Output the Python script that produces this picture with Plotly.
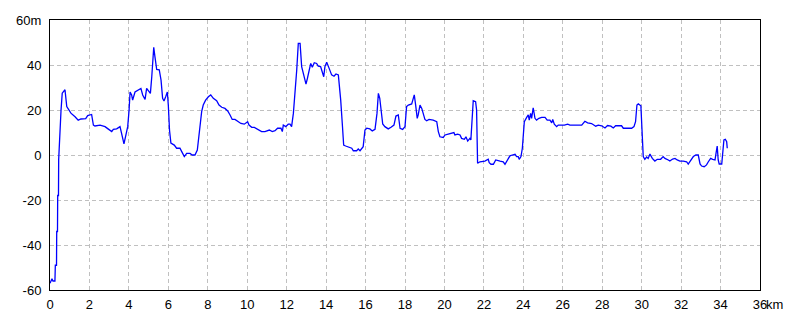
import plotly.graph_objects as go

# distance along route (km) and elevation (m)
distance_km = [
    0.00, 0.05, 0.10, 0.15, 0.25, 0.27, 0.33, 0.34, 0.38, 0.39, 0.43, 0.44, 0.48, 0.56, 0.62, 0.76, 0.85, 0.96,
    1.06, 1.27, 1.43, 1.57, 1.81, 1.91, 2.11, 2.20, 2.28, 2.54, 2.79, 2.96, 3.13, 3.21, 3.38, 3.55, 3.60, 3.67,
    3.75, 3.84, 3.94, 4.01, 4.06, 4.14, 4.19, 4.31, 4.48, 4.61, 4.70, 4.82, 4.90, 5.02, 5.09, 5.16, 5.21, 5.26,
    5.32, 5.41, 5.54, 5.63, 5.71, 5.78, 5.87, 5.92, 5.95, 6.00, 6.06, 6.13, 6.30, 6.42, 6.59, 6.68, 6.81, 6.93,
    7.10, 7.21, 7.35, 7.47, 7.55, 7.61, 7.69, 7.77, 7.89, 8.03, 8.15, 8.28, 8.45, 8.57, 8.71, 8.87, 9.01, 9.13,
    9.24, 9.38, 9.52, 9.68, 9.85, 10.02, 10.09, 10.23, 10.36, 10.48, 10.60, 10.73, 10.90, 11.12, 11.27, 11.41,
    11.54, 11.71, 11.78, 11.83, 11.95, 12.08, 12.17, 12.25, 12.34, 12.42, 12.51, 12.59, 12.68, 12.76, 12.84,
    12.93, 12.98, 13.05, 13.13, 13.22, 13.30, 13.40, 13.52, 13.60, 13.72, 13.81, 13.88, 13.94, 14.03, 14.11,
    14.20, 14.28, 14.40, 14.50, 14.62, 14.67, 14.74, 14.82, 14.89, 14.99, 15.12, 15.30, 15.38, 15.55, 15.63,
    15.72, 15.88, 15.97, 16.06, 16.22, 16.34, 16.48, 16.58, 16.65, 16.72, 16.78, 16.87, 16.98, 17.15, 17.29,
    17.44, 17.54, 17.66, 17.75, 17.88, 18.00, 18.08, 18.17, 18.34, 18.42, 18.47, 18.54, 18.62, 18.67, 18.76,
    18.85, 18.93, 19.01, 19.10, 19.22, 19.43, 19.61, 19.69, 19.77, 19.94, 20.03, 20.19, 20.37, 20.48, 20.53,
    20.67, 20.79, 20.87, 21.01, 21.09, 21.18, 21.29, 21.34, 21.41, 21.46, 21.58, 21.63, 21.68, 21.80, 22.05,
    22.22, 22.27, 22.36, 22.48, 22.60, 22.82, 22.98, 23.07, 23.20, 23.32, 23.44, 23.58, 23.66, 23.74, 23.79,
    23.88, 23.95, 24.00, 24.05, 24.17, 24.25, 24.30, 24.37, 24.42, 24.50, 24.59, 24.67, 24.79, 24.93, 25.10,
    25.21, 25.35, 25.44, 25.49, 25.57, 25.69, 25.77, 25.91, 26.08, 26.25, 26.36, 26.62, 26.96, 27.12, 27.26,
    27.46, 27.55, 27.67, 27.80, 27.97, 28.14, 28.27, 28.44, 28.56, 28.68, 28.81, 28.98, 29.07, 29.32, 29.49,
    29.61, 29.69, 29.76, 29.83, 29.96, 30.03, 30.08, 30.16, 30.25, 30.33, 30.42, 30.54, 30.67, 30.79, 30.96,
    31.09, 31.18, 31.35, 31.43, 31.57, 31.69, 31.80, 31.94, 32.11, 32.28, 32.36, 32.45, 32.53, 32.62, 32.75,
    32.87, 32.96, 33.04, 33.17, 33.29, 33.38, 33.50, 33.60, 33.72, 33.77, 33.83, 33.88, 33.93, 34.06, 34.11,
    34.17, 34.24, 34.31, 34.34,
]
elevation_m = [
    -57, -56, -55, -56, -56, -49, -49, -34, -34, -18, -18, -2, 8, 20, 27.5, 29, 21.5, 20,
    18.6, 17, 15.5, 16, 16.2, 17.5, 18, 13.3, 12.9, 13.3, 12.6, 11.5, 10.4, 11.4, 11.6, 12.6, 11.1, 8.1,
    4.9, 8, 12.6, 20, 28, 26.7, 24.4, 28, 29, 29.6, 26.7, 24.7, 29.6, 28.5, 27.4, 34.8, 45, 47.9,
    43.7, 38, 37.9, 33.3, 25.2, 24, 26, 27.5, 28, 22, 11, 5.3, 4.4, 3, 3, 1.5, -0.7, 0.7,
    0.7, 0, 0, 2.2, 8.1, 14.8, 19.3, 22.2, 24.4, 25.9, 26.7, 25.2, 24.1, 22.2, 21.2, 20.7, 19.6, 17.8,
    15.8, 15.8, 14.8, 14, 13.7, 14.8, 13.3, 12.3, 12.3, 11.6, 11.1, 10.4, 10.4, 11.1, 10.4, 10.8,
    11.9, 11.9, 10.4, 13.3, 12.6, 13.7, 13.7, 12.6, 18.5, 26, 37.8, 49.6, 49.6, 39.3, 36.3,
    33.3, 31.5, 34, 37.8, 40.7, 39, 41, 40.7, 39.5, 39.3, 36.3, 34.8, 39.3, 41.2, 39.5,
    37, 35.6, 35, 36, 35.6, 31.8, 24.4, 14, 4.4, 4, 3.7, 3, 1.9, 1.9, 2.7,
    1.9, 3.7, 11.1, 11.9, 11.6, 10.7, 11.4, 18.5, 27.4, 25.2, 20.7, 13.8, 12.6, 11.6, 12.3,
    13.3, 17.3, 17.8, 11.9, 11.4, 12.6, 21.5, 22.2, 22.7, 25.2, 26.7, 22.2, 16.3, 17.8, 22.2,
    20.7, 18.5, 15.8, 15.2, 15.8, 15.5, 14.8, 10.4, 8.1, 7.8, 8.9, 9.3, 9.6, 10, 8.9,
    9.3, 8.9, 7.4, 7, 8.1, 6.2, 7.4, 6.7, 19.3, 24.1, 23.7, 20, -3.7, -3, -2.7,
    -1.9, -3.4, -4.1, -4.1, -2.2, -2.7, -3, -4.1, -2.2, -0.4, 0, 0.3, -0.7, -0.7, -1.9,
    -0.7, 3, 8.1, 14.8, 16.7, 17.8, 15.5, 18.5, 16.3, 21, 16.3, 15.5, 16.3, 16.7, 16.7,
    15.5, 15.5, 14.3, 15.8, 13.7, 12.6, 13.3, 13.3, 13.3, 13.7, 13.3, 13.3, 13.3, 15, 14.3,
    14, 13.3, 12.8, 13.3, 13, 12, 13.1, 12.8, 12, 13, 13, 13, 11.9, 11.9, 11.9,
    12.6, 14.8, 22.2, 22.7, 21.9, 11.1, -0.7, -1.9, -0.9, -1.5, 0.4, -1.5, -2.7, -1.9, -1.9,
    -0.7, -1.5, -2.2, -2.7, -1.8, -1.5, -2.2, -2.7, -2.7, -3, -4, -2.7, -1.9, -0.7, 0,
    0, -4, -4.9, -5.2, -4.4, -3, -1.5, -1.9, -2.2, 0.7, 4, -2.2, -4, -4, 0,
    6.7, 7, 5.9, 3,
]

x_ticks = [0, 2, 4, 6, 8, 10, 12, 14, 16, 18, 20, 22, 24, 26, 28, 30, 32, 34, 36]
x_ticktext = ["0", "2", "4", "6", "8", "10", "12", "14", "16", "18", "20", "22", "24", "26", "28", "30", "32", "34", "36"]
y_ticks = [-60, -40, -20, 0, 20, 40, 60]
y_ticktext = ["-60", "-40", "-20", "0", "20", "40", "60m"]

FONT = "Liberation Sans Narrow, Liberation Sans, Arial, sans-serif"

fig = go.Figure()
fig.add_trace(go.Scatter(
    x=distance_km, y=elevation_m, mode="lines",
    line=dict(color="#0000ff", width=1.3),
    hoverinfo="skip", showlegend=False,
))

grid = dict(showgrid=True, gridcolor="#c0c0c0", griddash="4px,3px", gridwidth=1,
            zeroline=False, showline=True, linecolor="black", linewidth=1, mirror=True,
            ticks="", automargin=False, tickfont=dict(family=FONT, size=13, color="black"))

fig.update_xaxes(range=[0, 36], tickmode="array", tickvals=x_ticks, ticktext=x_ticktext,
                 ticklabelstandoff=2, **grid)
fig.update_yaxes(range=[-60, 60], tickmode="array", tickvals=y_ticks, ticktext=y_ticktext,
                 ticklabelstandoff=5, **grid)

fig.add_annotation(text="km", xref="paper", yref="paper", x=1, y=0, xanchor="left", yanchor="top",
                   xshift=4, yshift=-5, showarrow=False, font=dict(family=FONT, size=13, color="black"))

fig.update_layout(
    width=800, height=320,
    margin=dict(l=50, r=40, t=20, b=30),
    paper_bgcolor="white", plot_bgcolor="white",
)

fig.write_html("out.html")
